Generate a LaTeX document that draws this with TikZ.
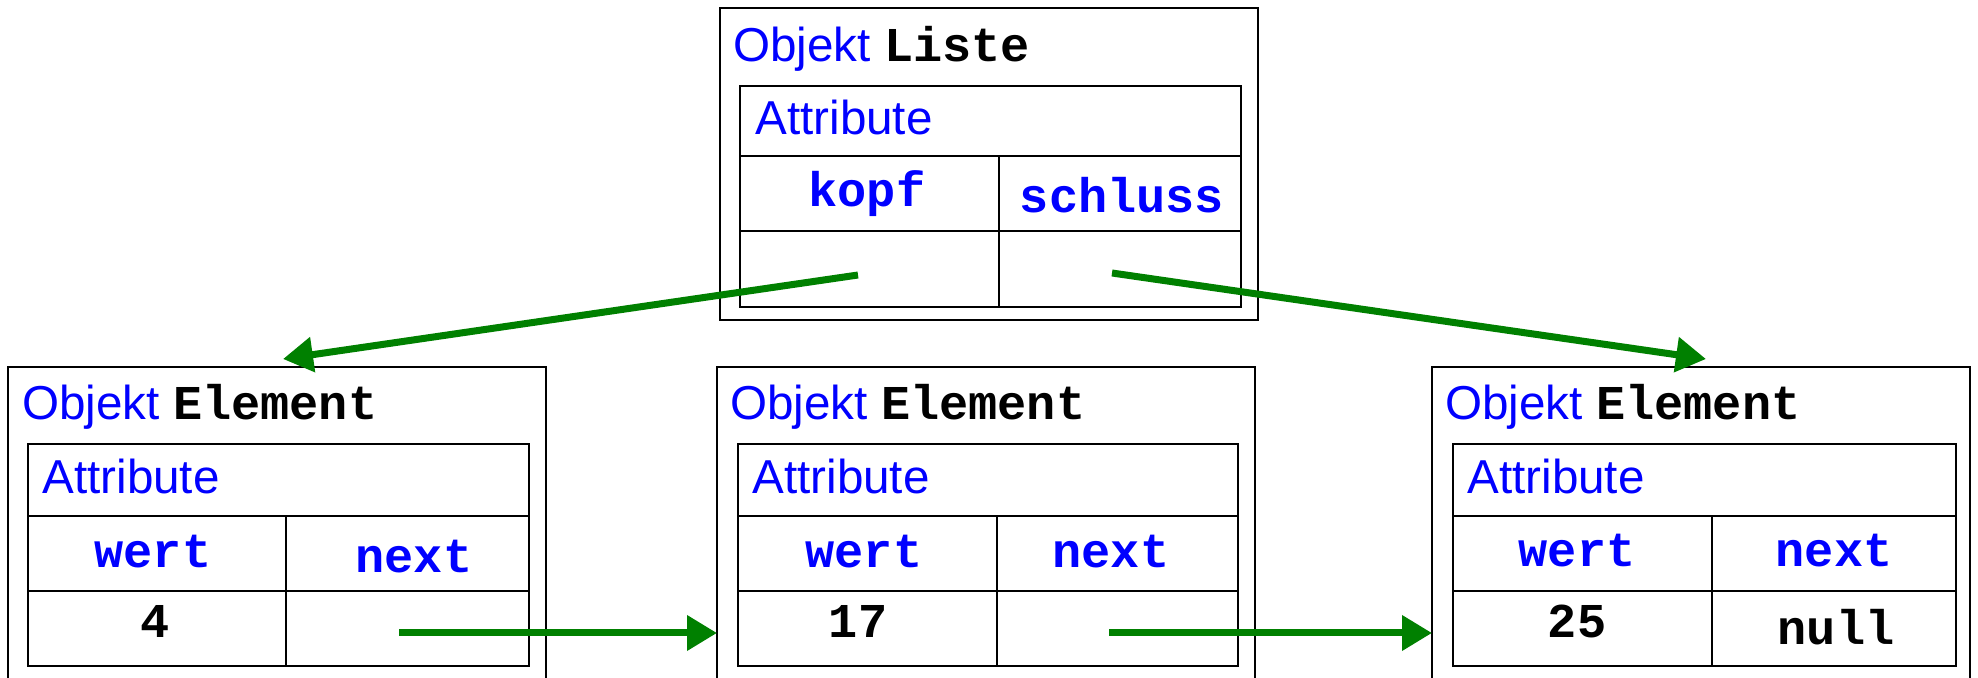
\documentclass[tikz,border=0pt]{standalone}
\usepackage{fontspec}
\newfontfamily\lsans{Liberation Sans}
\newfontfamily\lmono{Liberation Mono}
\usetikzlibrary{arrows.meta,fit}
\definecolor{ptrgreen}{RGB}{0,128,0}
\definecolor{lblblue}{RGB}{0,0,255}
\newcommand\mb[1]{{\lmono\bfseries\fontsize{24.3pt}{28pt}\selectfont #1}}
\begin{document}
\begin{tikzpicture}[x=0.5pt,y=-0.5pt,
  box/.style={draw, line width=1.3pt, inner sep=0pt, outer sep=0pt},
  lbl/.style={font=\lsans\fontsize{23.8pt}{28pt}\selectfont, text=lblblue, anchor=base west, inner sep=0pt},
  fld/.style={font=\lmono\bfseries\fontsize{24.3pt}{28pt}\selectfont, text=lblblue, anchor=base, inner sep=0pt},
  val/.style={font=\lmono\bfseries\fontsize{24.3pt}{28pt}\selectfont, text=black, anchor=base, inner sep=0pt},
  ptr/.style={draw=ptrgreen, line width=3.5pt, -{Triangle[length=15pt,width=17pt]}}]
\useasboundingbox (0,0) rectangle (1978,678);

% ---- Objekt Liste ----
\node[box, fit={(720,8) (1258,320)}] (L) {};
\node[box, fit={(740,86) (1241,156)}] (Lattr) {};
\node[box, fit={(740,156) (999,231)}] (Lkopf) {};
\node[box, fit={(999,156) (1241,231)}] (Lschluss) {};
\node[box, fit={(740,231) (999,307)}] (Lkopfv) {};
\node[box, fit={(999,231) (1241,307)}] (Lschlussv) {};
\node[lbl] (Ltitle) at (733,62) {Objekt \mb{\color{black}Liste}};
\node[lbl] (Lattrt) at (755,135) {Attribute};
\node[fld] (Lkopft) at (867,207) {kopf};
\node[fld] (Lschlusst) at (1122,213) {schluss};
\coordinate (Lkopfp) at (858,275);
\coordinate (Lschlussp) at (1112,273);

% ---- Element 1 ----
\node[box, fit={(8,367) (546,700)}] (E1) {};
\node[box, fit={(28,444) (529,516)}] (E1attr) {};
\node[box, fit={(28,516) (286,591)}] (E1wert) {};
\node[box, fit={(286,516) (529,591)}] (E1next) {};
\node[box, fit={(28,591) (286,666)}] (E1wertv) {};
\node[box, fit={(286,591) (529,666)}] (E1nextv) {};
\node[lbl] (E1title) at (22,420) {Objekt \mb{\color{black}Element}};
\node[lbl] (E1attrt) at (42,494) {Attribute};
\node[fld] (E1wertt) at (153,568) {wert};
\node[fld] (E1nextt) at (414,573) {next};
\node[val] (E1val) at (155,638) {4};
\coordinate (E1nextp) at (399,633);
\coordinate (E1in) at (283,359);

% ---- Element 2 ----
\node[box, fit={(717,367) (1255,700)}] (E2) {};
\node[box, fit={(738,444) (1238,516)}] (E2attr) {};
\node[box, fit={(738,516) (997,591)}] (E2wert) {};
\node[box, fit={(997,516) (1238,591)}] (E2next) {};
\node[box, fit={(738,591) (997,666)}] (E2wertv) {};
\node[box, fit={(997,591) (1238,666)}] (E2nextv) {};
\node[lbl] (E2title) at (730,420) {Objekt \mb{\color{black}Element}};
\node[lbl] (E2attrt) at (752,494) {Attribute};
\node[fld] (E2wertt) at (864,568) {wert};
\node[fld] (E2nextt) at (1111,568) {next};
\node[val] (E2val) at (858,638) {17};
\coordinate (E2nextp) at (1109,633);

% ---- Element 3 ----
\node[box, fit={(1432,367) (1970,700)}] (E3) {};
\node[box, fit={(1453,444) (1956,516)}] (E3attr) {};
\node[box, fit={(1453,516) (1712,591)}] (E3wert) {};
\node[box, fit={(1712,516) (1956,591)}] (E3next) {};
\node[box, fit={(1453,591) (1712,666)}] (E3wertv) {};
\node[box, fit={(1712,591) (1956,666)}] (E3nextv) {};
\node[lbl] (E3title) at (1445,420) {Objekt \mb{\color{black}Element}};
\node[lbl] (E3attrt) at (1467,494) {Attribute};
\node[fld] (E3wertt) at (1577,567) {wert};
\node[fld] (E3nextt) at (1834,567) {next};
\node[val] (E3val) at (1577,638) {25};
\node[val] (E3null) at (1836,645) {null};
\coordinate (E3in) at (1706,359);

% ---- pointers ----
\draw[ptr] (Lkopfp) -- (E1in);
\draw[ptr] (Lschlussp) -- (E3in);
\draw[ptr] (E1nextp) -- (E1nextp -| E2.west);
\draw[ptr] (E2nextp) -- (E2nextp -| E3.west);
\end{tikzpicture}
\end{document}
